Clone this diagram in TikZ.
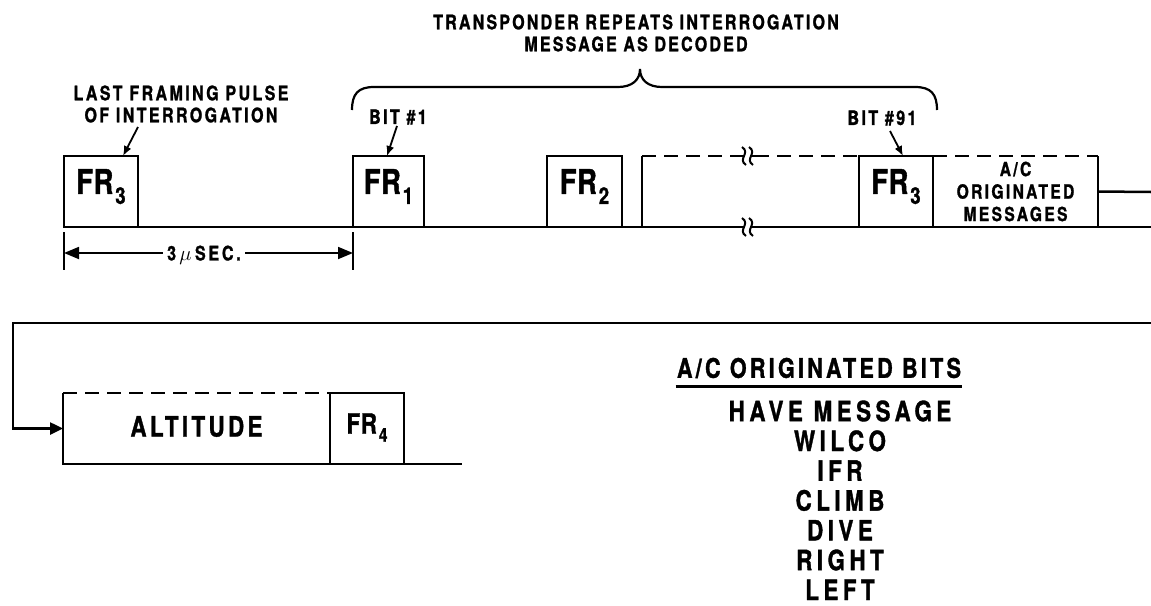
\documentclass[tikz,border=0pt]{standalone}
\usepackage{fontspec}
\setmainfont{TeX Gyre Heros}[FakeStretch=0.8, LetterSpace=12, BoldFeatures={FakeBold=1.2}]
\usetikzlibrary{arrows.meta}
\newcommand\FRt[1]{{\addfontfeature{LetterSpace=2}FR\kern2pt\raisebox{-10pt}[0pt][0pt]{\fontsize{23}{23}\selectfont #1}}}
\newcommand\FRb[1]{{\addfontfeature{LetterSpace=2}FR\kern2pt\raisebox{-8pt}[0pt][0pt]{\fontsize{19}{19}\selectfont #1}}}
\begin{document}
\begin{tikzpicture}[x=1pt,y=-1pt,line width=2.5pt,
  pulse/.style={draw, minimum height=71pt, inner sep=0pt, outer sep=0pt},
  ghost/.style={draw=none, minimum height=71pt, inner sep=0pt, outer sep=0pt},
  frtxt/.style={inner sep=0pt, font=\bfseries\fontsize{34}{34}\selectfont},
  frtxtb/.style={inner sep=0pt, font=\bfseries\fontsize{28}{28}\selectfont},
  lab/.style={inner sep=0pt, align=center, font=\bfseries\fontsize{20}{22}\selectfont},
  big/.style={inner sep=0pt},
  dl/.style={dash pattern=on 14pt off 8pt},
  ptr/.style={line width=1.8pt, -{Latex[length=10pt,width=8pt]}},
  dim/.style={line width=1.8pt},
  dimtip/.style={{Triangle[length=15pt,width=12pt]}-{Triangle[length=15pt,width=12pt]}},
  sq/.style={line width=2pt}]
\useasboundingbox (0,0) rectangle (1151,605);

% ---------- top pulse train ----------
\node[pulse, minimum width=74pt] (fra) at (101,191.5) {};
\node[pulse, minimum width=71pt] (fr1) at (388.5,191.5) {};
\node[pulse, minimum width=75pt] (fr2) at (584.5,191.5) {};
\node[pulse, minimum width=74pt] (frb) at (896,191.5) {};
\node[ghost, minimum width=217pt] (brk) at (750.5,191.5) {};
\node[ghost, minimum width=165pt] (ac) at (1015.5,191.5) {};

\node[frtxt] (fra-t) at ([yshift=10pt]fra.center) {\FRt{3}};
\node[frtxt] (fr1-t) at ([yshift=10pt]fr1.center) {\FRt{1}};
\node[frtxt] (fr2-t) at ([yshift=10pt]fr2.center) {\FRt{2}};
\node[frtxt] (frb-t) at ([yshift=10pt]frb.center) {\FRt{3}};
\node[inner sep=0pt, align=center, font=\bfseries\fontsize{19.5}{22.5}\selectfont] (ac-t) at (ac.center) {A/C\\ORIGINATED\\MESSAGES};

% baseline with break
\coordinate (b0) at (64,227);
\coordinate (b1) at (744,227);
\coordinate (b2) at (751,227);
\coordinate (b3) at (1151,227);
\draw (b0) -- (b1);
\draw (b2) -- (b3);
% break box
\coordinate (t1) at (744,156);
\coordinate (t2) at (751,156);
\draw (brk.south west) -- (brk.north west);
\draw[dl] (brk.north west) -- ([xshift=-4pt]t1);
\draw[dl] ([xshift=4pt]t2) -- (brk.north east);
\draw (t1) -- ([xshift=-4pt]t1);
\draw (t2) -- ([xshift=4pt]t2);
\foreach \c in {t1,t2,b1,b2}
  \draw[sq] ([shift={(-2,-9)}]\c) .. controls ([shift={(7,-3)}]\c) and ([shift={(-7,3)}]\c) .. ([shift={(2,9)}]\c);

% A/C originated messages box
\draw[dl] (ac.north west) -- (ac.north east);
\draw (ac.north east) -- (ac.south east);
\coordinate (loopR) at (1151,192);
\draw (ac.east) -- (loopR);

% ---------- labels top ----------
\node[lab, font=\bfseries\fontsize{20}{22}\selectfont\addfontfeature{LetterSpace=11}] (title) at (636,33) {TRANSPONDER REPEATS INTERROGATION\\MESSAGE AS DECODED};
\draw[line width=2.2pt] (352,110) .. controls (352,94) and (358,87) .. (374,87) -- (618,87)
   .. controls (632,87) and (640,80) .. (640,69)
   .. controls (640,80) and (648,87) .. (662,87) -- (915,87)
   .. controls (931,87) and (937,94) .. (937,110);

\node[lab] (last) at (181,104) {LAST FRAMING PULSE\\OF INTERROGATION};
\coordinate (p1) at (138,127);
\draw[ptr] (p1) -- (fra.north -| 123,0);

\node[lab] (bit1) at (398,117) {BIT \#1};
\coordinate (p2) at (397,126);
\draw[ptr] (p2) -- (fr1.north -| 387,0);

\node[lab] (bit91) at (882,118) {BIT \#91};
\coordinate (p3) at (890,131);
\draw[ptr] (p3) -- (frb.north -| 903,0);

% ---------- dimension ----------
\coordinate (d0) at (64,253);
\coordinate (d1) at (353,253);
\draw[dim] (64,232) -- (64,270);
\draw[dim] (353,232) -- (353,270);
\draw[dim, dimtip] (d0) -- (d1);
\node[fill=white, inner xsep=4pt, inner ysep=2pt, font=\bfseries\fontsize{20}{20}\selectfont\addfontfeature{LetterSpace=14}, text depth=0pt] (dimt) at (204,253) {3\,$\mu$\,SEC.};

% ---------- bottom row ----------
\node[ghost, minimum width=267pt] (alt) at (196.5,428.5) {};
\node[pulse, minimum width=74pt] (fr4) at (367,428.5) {};
\node[frtxtb] (alt-t) at ([yshift=2pt]alt.center) {ALTITUDE};
\node[frtxtb] (fr4-t) at ([yshift=5pt]fr4.center) {\FRb{4}};
\draw (alt.north west) -- (alt.south west) -- (alt.south east);
\draw[dl] (alt.north west) -- (alt.north east);
\coordinate (base4) at (462,464);
\draw (fr4.south east) -- (base4);

\coordinate (loopA) at (1151,323);
\coordinate (loopB) at (13,323);
\draw[-{Triangle[length=13pt,width=12pt]}] (loopA) -- (loopB) |- (alt.west);

% ---------- A/C originated bits ----------
\node[big, font=\bfseries\fontsize{27}{30}\selectfont] (head) at (819,368) {A/C ORIGINATED BITS};
\draw[line width=2.2pt] ([yshift=-7pt]head.south west) -- ([yshift=-7pt]head.south east);
\foreach \t [count=\i] in {HAVE MESSAGE,WILCO,IFR,CLIMB,DIVE,RIGHT,LEFT}
  \node[big, font=\bfseries\fontsize{28}{30}\selectfont\addfontfeature{LetterSpace=16}] (bit\i) at (840,{411+29.8*(\i-1)}) {\t};
\end{tikzpicture}
\end{document}
